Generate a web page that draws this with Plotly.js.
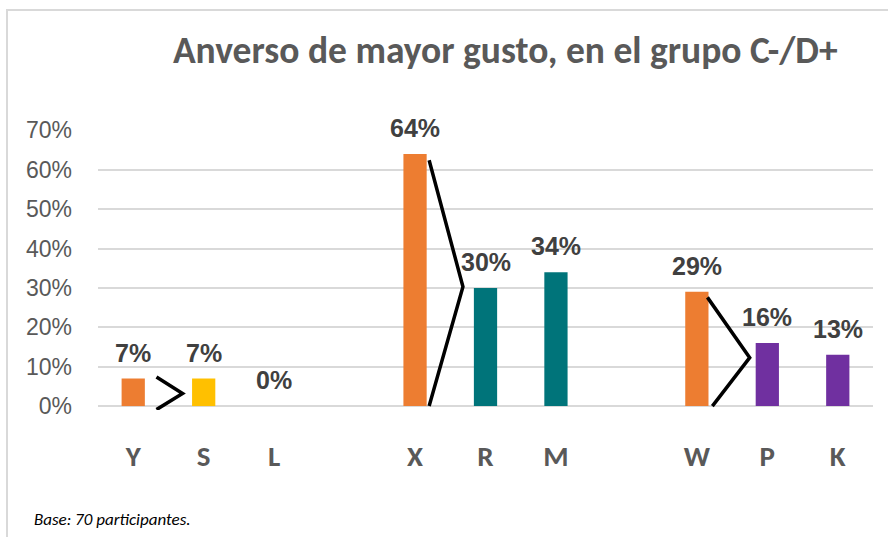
<!DOCTYPE html>
<html>
<head>
<meta charset="utf-8">
<script src="https://cdn.plot.ly/plotly-3.0.1.min.js"></script>
<style>
  html, body { margin: 0; padding: 0; background: #ffffff; }
  #wrap { position: relative; width: 888px; height: 537px; overflow: hidden; }
  #chart { width: 888px; height: 537px; }
  #frame { position: absolute; left: 6px; top: 9px; width: 900px; height: 600px;
           border-left: 2px solid #D9D9D9; border-top: 2px solid #D9D9D9; pointer-events: none; }
</style>
</head>
<body>
<div id="wrap">
  <div id="chart"></div>
  <div id="frame"></div>
</div>
<script>
// ---- data ----
const slots = ['Y', 'S', 'L', ' ', 'X', 'R', 'M', '  ', 'W', 'P', 'K'];
const categories = ['Y', 'S', 'L', 'X', 'R', 'M', 'W', 'P', 'K'];
const values = [0.07, 0.07, 0.00, 0.64, 0.30, 0.34, 0.29, 0.16, 0.13];
const labels = ['7%', '7%', '0%', '64%', '30%', '34%', '29%', '16%', '13%'];
const barColors = ['#ED7D31', '#FFC000', '#FFC000', '#ED7D31', '#00747A', '#00747A', '#ED7D31', '#7030A0', '#7030A0'];
const titleText = 'Anverso de mayor gusto, en el grupo C-/D+';
const footnote = 'Base: 70 participantes.';
// ">" connectors: [x start, y start, x apex, y apex, x end, y end] in slot index / value units
const connectors = [
  [0.33, 0.074, 0.70, 0.032, 0.33, -0.009],
  [4.20, 0.624, 4.68, 0.303, 4.20, 0.000],
  [8.15, 0.276, 8.75, 0.123, 8.22, 0.000]
];

const calibri = 'Calibri, Carlito, Lato, sans-serif';
const arial = 'Arial, "Liberation Sans", sans-serif';

const trace = {
  type: 'bar',
  x: categories,
  y: values,
  marker: { color: barColors },
  width: 0.33,
  hoverinfo: 'skip'
};

const annotations = categories.map((c, i) => ({
  x: c, y: values[i], xref: 'x', yref: 'y',
  text: '<b>' + labels[i] + '</b>',
  showarrow: false, yanchor: 'middle', yshift: 26,
  font: { family: arial, size: 25, color: '#404040' }
}));
annotations.push({
  xref: 'paper', yref: 'paper', x: -0.085, y: -0.39, xanchor: 'left', yanchor: 'middle',
  text: '<i>' + footnote + '</i>', showarrow: false,
  font: { family: calibri, size: 17, color: '#000000' }
});

const shapes = connectors.map(c => ({
  type: 'path', xref: 'x', yref: 'y',
  path: `M ${c[0]},${c[1]} L ${c[2]},${c[3]} L ${c[4]},${c[5]}`,
  line: { color: '#000000', width: 3.5 }
}));

const layout = {
  width: 888, height: 537,
  margin: { l: 98, r: 15, t: 130, b: 127 },
  paper_bgcolor: '#ffffff', plot_bgcolor: '#ffffff',
  showlegend: false,
  title: {
    text: '<b>' + titleText + '</b>',
    xref: 'container', yref: 'container', x: 0.569, y: 0.907,
    xanchor: 'center', yanchor: 'middle',
    font: { family: calibri, size: 37.5, color: '#595959' }
  },
  xaxis: {
    type: 'category', categoryorder: 'array', categoryarray: slots,
    range: [-0.5, slots.length - 0.5],
    showgrid: false, zeroline: false, showline: false, ticks: '',
    ticklabelstandoff: 26,
    tickfont: { family: calibri, size: 29, color: '#595959' },
    tickvals: slots, ticktext: slots.map(s => '<b>' + s + '</b>')
  },
  yaxis: {
    range: [-0.01, 0.701],
    tickvals: [0, 0.1, 0.2, 0.3, 0.4, 0.5, 0.6, 0.7],
    tickformat: '.0%',
    showgrid: true, gridcolor: '#D9D9D9', gridwidth: 2,
    zeroline: false, showline: false, ticks: '',
    ticklabelstandoff: 25,
    tickfont: { family: arial, size: 23, color: '#595959' }
  },
  annotations: annotations,
  shapes: shapes
};

Plotly.newPlot('chart', [trace], layout, { displayModeBar: false, staticPlot: true });
</script>
</body>
</html>
